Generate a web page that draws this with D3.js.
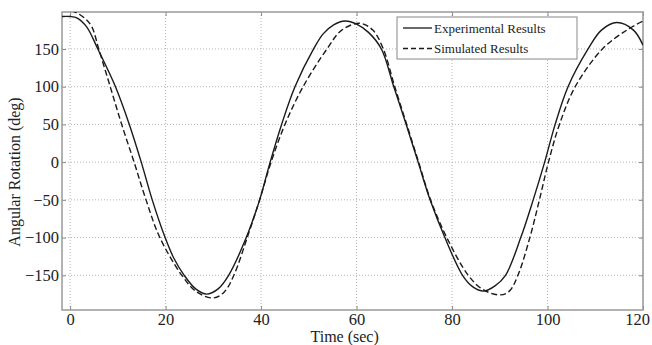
<!DOCTYPE html>
<html>
<head>
<meta charset="utf-8">
<script src="https://cdn.jsdelivr.net/npm/d3@7"></script>
<style>
  body { margin: 0; background: #fff; }
  text { font-family: "Liberation Serif", "DejaVu Serif", serif; fill: #222; }
</style>
</head>
<body>
<div id="graphicContainer"></div>
<script>
// time (sec) and angle (deg)
const expTime = [-1.7, 0, 1.5, 3.5, 5.8, 9.5, 12.4, 14.9, 17.2, 19.9, 21.7, 23.9, 26.3, 28.6, 31, 33.2, 36.9, 39.7, 41.9, 44.3, 47.1, 51, 53, 55.2, 57.6, 60, 62.5, 65.2, 67.8, 70.4, 72.9, 75.4, 78.5, 82.2, 84.3, 86.6, 89, 91.2, 94.4, 97, 99.4, 101.6, 104.3, 108.5, 111.3, 114.5, 118, 120];
const expAngle = [193, 193, 191, 179, 150, 100, 50, 0, -50, -100, -127, -150, -168, -175, -168, -150, -100, -50, 0, 50, 100, 150, 170, 182, 187, 183, 172, 150, 100, 50, 0, -50, -100, -150, -165, -171, -164, -150, -100, -50, 0, 50, 100, 150, 175, 185, 175, 155];

const simTime = [-1.7, -0.5, 1, 3, 4.5, 6, 8.4, 10.8, 13.4, 15.9, 18.8, 23.4, 26.5, 30, 32.3, 34.3, 37.1, 39.7, 42.1, 45, 48.8, 53.8, 56.9, 60.7, 63.4, 65.6, 68, 70.5, 73, 75.5, 78.9, 83.4, 86.5, 90.1, 92, 93.8, 96.3, 98.3, 100.2, 102.5, 105.8, 111.5, 116.6, 120];
const simAngle = [201, 201, 199, 191, 180, 150, 100, 50, 0, -50, -100, -150, -172, -180, -172, -150, -100, -50, 0, 50, 100, 150, 175, 184, 175, 150, 100, 50, 0, -50, -100, -150, -169, -176, -171, -150, -100, -50, 0, 50, 100, 150, 175, 187];

const xTicks = [0, 20, 40, 60, 80, 100, 120];
const yTicks = [-150, -100, -50, 0, 50, 100, 150];
const legendLabels = ['Experimental Results', 'Simulated Results'];

const Width = 652, Height = 345;
const Margin = { t: 12, r: 9, b: 35, l: 62 };
const innerW = Width - Margin.l - Margin.r, innerH = Height - Margin.t - Margin.b;

const x = d3.scaleLinear().domain([-1.7, 120]).range([0, innerW]);
const y = d3.scaleLinear().domain([-196, 199]).range([innerH, 0]);

const svg = d3.select('#graphicContainer').append('svg')
  .attr('width', Width)
  .attr('height', Height);

svg.append('defs').append('clipPath').attr('id', 'plotClip')
  .append('rect').attr('width', innerW).attr('height', innerH);

const g = svg.append('g').attr('transform', `translate(${Margin.l},${Margin.t})`);

// dotted grid
g.append('g').attr('class', 'grid')
  .selectAll('line.vx').data(xTicks).enter().append('line')
  .attr('x1', d => x(d)).attr('x2', d => x(d))
  .attr('y1', 0).attr('y2', innerH);
g.select('.grid')
  .selectAll('line.hy').data(yTicks).enter().append('line')
  .attr('x1', 0).attr('x2', innerW)
  .attr('y1', d => y(d)).attr('y2', d => y(d));
g.selectAll('.grid line')
  .attr('stroke', '#aaa')
  .attr('stroke-width', 0.9)
  .attr('stroke-dasharray', '1 2');

// axes (inward ticks, matlab style)
const xAxis = g.append('g').attr('transform', `translate(0,${innerH})`)
  .call(d3.axisBottom(x).tickValues(xTicks).tickSize(-4).tickPadding(3));
const yAxis = g.append('g')
  .call(d3.axisLeft(y).tickValues(yTicks).tickSize(-4).tickPadding(3));
g.append('g').call(d3.axisTop(x).tickValues(xTicks).tickSize(-4).tickFormat(''));
g.append('g').attr('transform', `translate(${innerW},0)`)
  .call(d3.axisRight(y).tickValues(yTicks).tickSize(-4).tickFormat(''));

g.selectAll('.domain').remove();
g.selectAll('.tick line').attr('stroke', '#888');
g.selectAll('.tick text')
  .style('font-family', '"Liberation Serif", serif')
  .style('font-size', '16.5px')
  .attr('fill', '#222');
// last x label sits inside the frame like in the original
xAxis.selectAll('.tick text').filter(d => d === 120).attr('dx', -6);

g.append('rect')
  .attr('width', innerW).attr('height', innerH)
  .attr('fill', 'none')
  .attr('stroke', '#999')
  .attr('stroke-width', 1.5);

// curves
const line = d3.line()
  .x(d => x(d[0]))
  .y(d => y(d[1]))
  .curve(d3.curveCatmullRom.alpha(0.5));

const expData = d3.zip(expTime, expAngle);
const simData = d3.zip(simTime, simAngle);

const plot = g.append('g').attr('clip-path', 'url(#plotClip)');
plot.append('path')
  .datum(expData)
  .attr('d', line)
  .attr('fill', 'none')
  .attr('stroke', '#1a1a1a')
  .attr('stroke-width', 1.4);
plot.append('path')
  .datum(simData)
  .attr('d', line)
  .attr('fill', 'none')
  .attr('stroke', '#1a1a1a')
  .attr('stroke-width', 1.4)
  .attr('stroke-dasharray', '6 3');

// legend
const legend = svg.append('g').attr('transform', 'translate(397,17)');
legend.append('rect')
  .attr('width', 180).attr('height', 42)
  .attr('fill', '#fff')
  .attr('stroke', '#888')
  .attr('stroke-width', 1);
legend.selectAll('line.key').data(legendLabels).enter().append('line')
  .attr('x1', 6).attr('x2', 35)
  .attr('y1', (d, i) => 11 + i * 20.5).attr('y2', (d, i) => 11 + i * 20.5)
  .attr('stroke', '#1a1a1a')
  .attr('stroke-width', 1.3)
  .attr('stroke-dasharray', (d, i) => i ? '5 3' : null);
legend.selectAll('text.key').data(legendLabels).enter().append('text')
  .attr('x', 37)
  .attr('y', (d, i) => 15.5 + i * 20.5)
  .style('font-size', '13px')
  .text(d => d);

// axis titles
svg.append('text')
  .attr('x', Margin.l + x(57.5))
  .attr('y', 342)
  .attr('text-anchor', 'middle')
  .style('font-size', '16px')
  .text('Time (sec)');
svg.append('text')
  .attr('transform', 'translate(20,172) rotate(-90)')
  .attr('text-anchor', 'middle')
  .style('font-size', '16px')
  .text('Angular Rotation (deg)');
</script>
</body>
</html>
